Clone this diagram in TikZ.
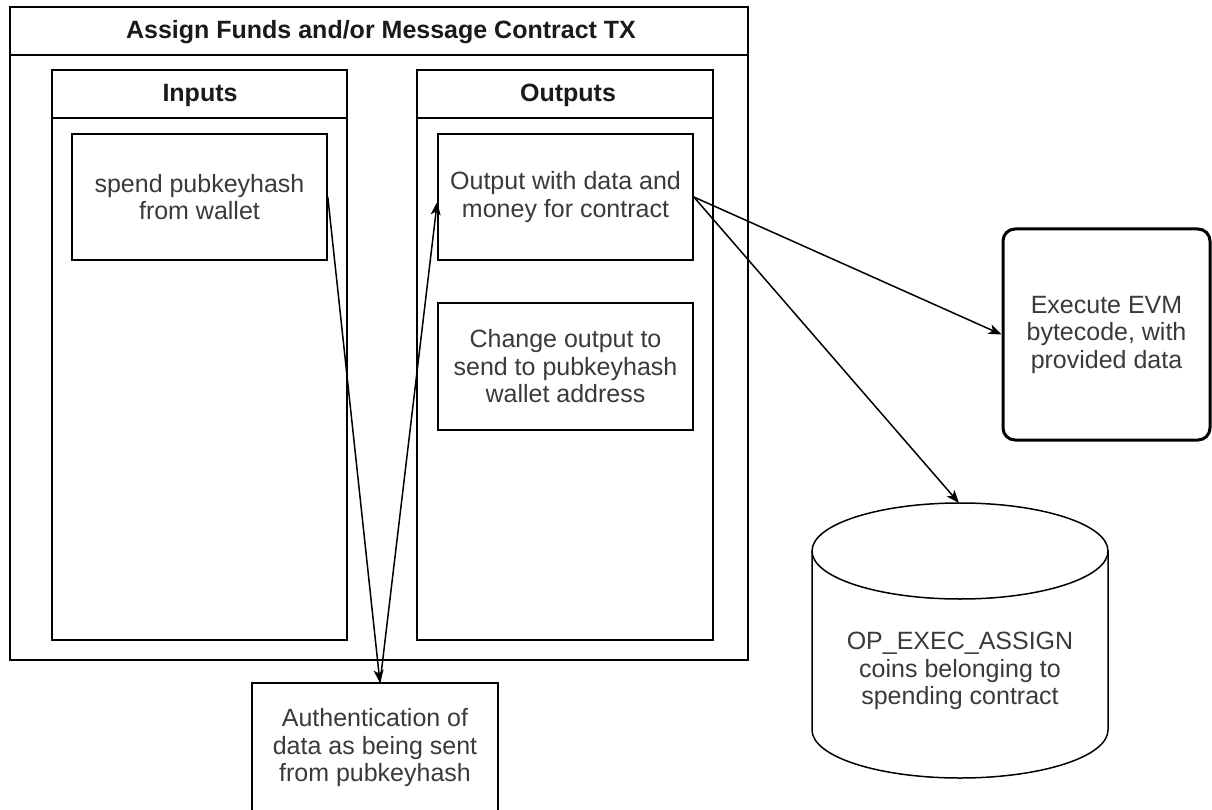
\documentclass[tikz,border=0pt]{standalone}
\usepackage{fontspec}
\setmainfont{Liberation Sans}
\usetikzlibrary{arrows.meta}
\definecolor{txt}{HTML}{3A3A3A}
\definecolor{ttl}{HTML}{1A1A1A}
\newcommand{\mybody}{\fontsize{25}{27.5}\selectfont}
\newcommand{\mytitle}{\fontsize{25}{27}\selectfont\bfseries}
\begin{document}
\begin{tikzpicture}[x=1pt,y=-1pt,
  frame/.style={draw=black, line width=1.6pt, rectangle, inner sep=0pt},
  box/.style={frame, align=center, text=txt, font=\mybody},
  hdr/.style={text=ttl, font=\mytitle, inner sep=0pt},
  lbl/.style={align=center, text=txt, font=\mybody, inner sep=0pt},
  arr/.style={draw=black, line width=1.5pt, -{Stealth[length=13pt,width=10pt,inset=3.5pt]}},
  evmbox/.style={box, line width=3pt, rounded corners=12pt}
]
\useasboundingbox[fill=white] (0,0) rectangle (1212,810);

% outer container
\node[frame, minimum width=738pt, minimum height=653pt] (outer) at (379,333.5) {};
\draw[line width=1.6pt] (10,55) -- (748,55);
\node[hdr] (title) at (381,32) {Assign Funds and/or Message Contract TX};

% inputs column
\node[frame, minimum width=295pt, minimum height=570pt] (inputs) at (199.5,355) {};
\draw[line width=1.6pt] (52,118) -- (347,118);
\node[hdr] (inhdr) at (200,95) {Inputs};

% outputs column
\node[frame, minimum width=296pt, minimum height=570pt] (outputs) at (565,355) {};
\draw[line width=1.6pt] (417,118) -- (713,118);
\node[hdr] (outhdr) at (568,95) {Outputs};

% inner boxes
\node[box, minimum width=255pt, minimum height=126pt] (spend) at (199.5,197) {spend pubkeyhash\\from wallet};
\node[box, minimum width=255pt, minimum height=126pt] (outdata) at (565.5,197) {Output with data and\\money for contract};
\node[box, minimum width=255pt, minimum height=127pt] (change) at (565.5,366.5) {Change output to\\send to pubkeyhash\\wallet address};

% external boxes
\node[evmbox, minimum width=207pt, minimum height=211pt] (evm) at (1106.5,334.5) {Execute EVM\\bytecode, with\\provided data};
\node[box, minimum width=246pt, minimum height=130pt] (auth) at (375,748) {Authentication of\\data as being sent\\from pubkeyhash};

% cylinder
\draw[line width=1.5pt] (812,551) -- (812,730)
  arc[start angle=180, end angle=360, x radius=148pt, y radius=48pt] -- (1108,551);
\draw[line width=1.5pt] (960,551) ellipse [x radius=148pt, y radius=48pt];
\node[lbl] (cyl) at (960,671) {OP\_EXEC\_ASSIGN\\coins belonging to\\spending contract};

% connector end points
\coordinate (authin) at (380,683);
\coordinate (cyltop) at (959,503);

% connectors
\draw[arr] (spend.east) -- (authin);
\draw[arr] (authin) -- ([yshift=-5pt]outdata.west);
\draw[arr] (outdata.east) -- (evm.west);
\draw[arr] (outdata.east) -- (cyltop);
\end{tikzpicture}
\end{document}
